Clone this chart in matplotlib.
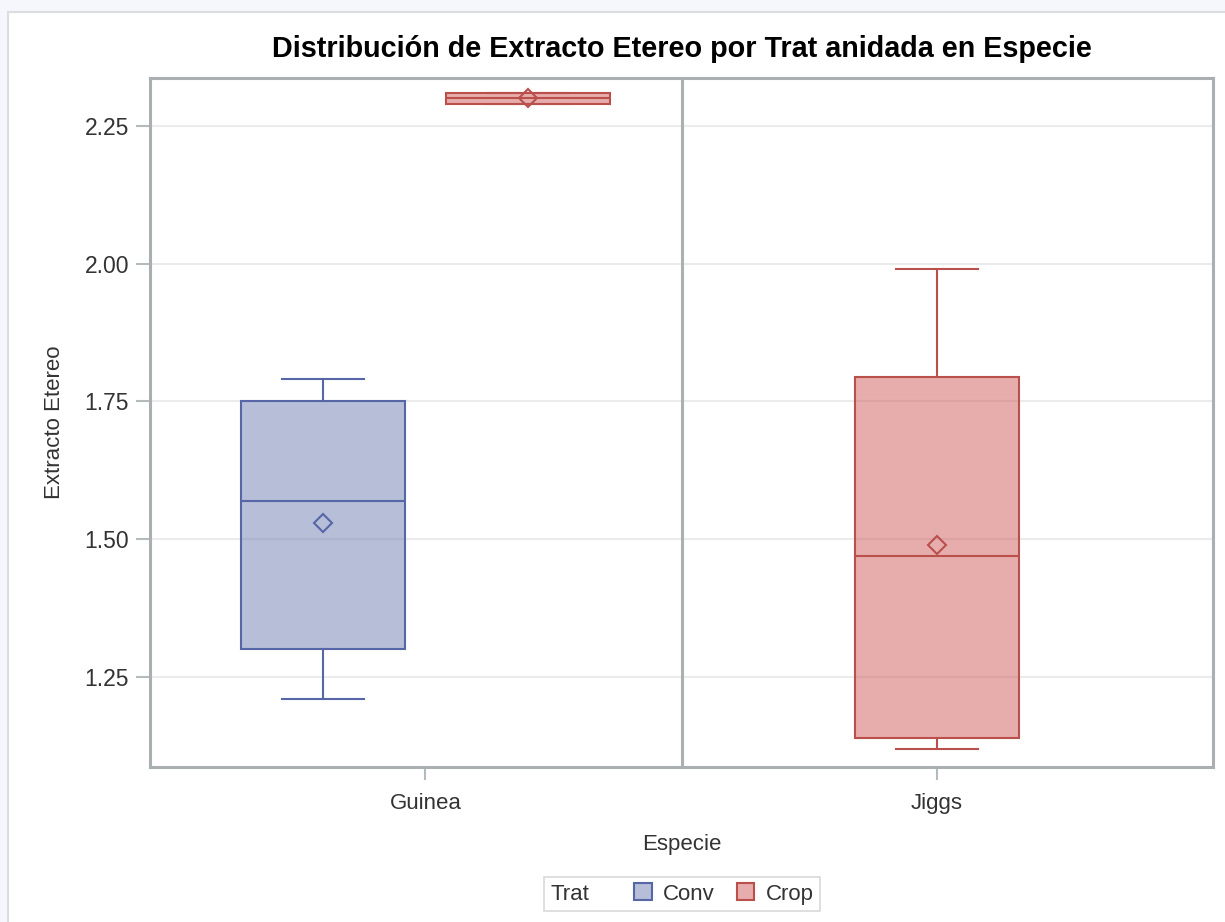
import matplotlib.pyplot as plt
from matplotlib.patches import Rectangle, Patch
from matplotlib.colors import to_rgba
from matplotlib.offsetbox import HPacker

plt.rcParams['font.family'] = ['Liberation Sans', 'DejaVu Sans']

# Summary statistics per Especie / Trat
especies = ['Guinea', 'Jiggs']
trat_levels = ['Conv', 'Crop']

box_especie = ['Guinea', 'Guinea', 'Jiggs']
box_trat = ['Conv', 'Crop', 'Crop']
whislo = [1.21, 2.29, 1.12]
q1 = [1.30, 2.29, 1.14]
med = [1.57, 2.30, 1.47]
q3 = [1.75, 2.31, 1.795]
whishi = [1.79, 2.31, 1.99]
means = [1.53, 2.30, 1.49]

fill_colors = {'Conv': to_rgba('#6f7eb3', 0.5), 'Crop': to_rgba('#d05b5b', 0.5)}
line_colors = {'Conv': '#5766a6', 'Crop': '#b9504c'}
text_color = '#333333'

fig = plt.figure(figsize=(12.25, 9.22), dpi=100)
fig.patch.set_facecolor('#f6f7fc')
fig.add_artist(Rectangle((8 / 1225, -0.01), 1.0, 1 - 12 / 922 + 0.01,
                         transform=fig.transFigure, facecolor='white',
                         edgecolor='#dcdde0', linewidth=1.5, zorder=-10))

ax = fig.add_axes([150 / 1225, 1 - 767 / 922, (1213 - 150) / 1225, (767 - 78) / 922])
ax.set_zorder(1)

# each Especie gets one cell; groups inside a cell are clustered around the tick
cell_w = 1.0
box_w = 0.309
group_off = 0.193
tick_pos = {'Guinea': 0.518, 'Jiggs': 1.481}

for i in range(len(box_trat)):
    esp, trat = box_especie[i], box_trat[i]
    n_groups = box_especie.count(esp)
    if n_groups > 1:
        pos = tick_pos[esp] + (-group_off if trat == 'Conv' else group_off)
    else:
        pos = tick_pos[esp]
    stats = [dict(whislo=whislo[i], q1=q1[i], med=med[i], q3=q3[i],
                  whishi=whishi[i], mean=means[i], fliers=[])]
    lc = line_colors[trat]
    ax.bxp(stats, positions=[pos], widths=box_w, capwidths=box_w / 2,
           patch_artist=True, showmeans=True, manage_ticks=False,
           boxprops=dict(facecolor=fill_colors[trat], edgecolor=lc, linewidth=1.5),
           medianprops=dict(color=lc, linewidth=1.5),
           whiskerprops=dict(color=lc, linewidth=1.5),
           capprops=dict(color=lc, linewidth=1.5),
           meanprops=dict(marker='D', markerfacecolor='none', markeredgecolor=lc,
                          markersize=9, markeredgewidth=1.5))

ax.axvline(cell_w, color='#aab0b2', linewidth=2.2, zorder=3)

ax.set_xlim(0, 2 * cell_w)
ax.set_ylim(1.0867, 2.337)
ax.set_yticks([1.25, 1.50, 1.75, 2.00, 2.25])
ax.set_yticklabels(['1.25', '1.50', '1.75', '2.00', '2.25'])
ax.set_xticks([tick_pos[e] for e in especies])
ax.set_xticklabels(especies)
ax.yaxis.grid(True, color='#ebebeb', linewidth=1.5)
ax.set_axisbelow(True)

for s in ax.spines.values():
    s.set_color('#aab0b2')
    s.set_linewidth(2.2)
ax.tick_params(axis='y', colors='#b5babc', labelcolor=text_color,
               labelsize=16.5, length=10, width=1.5, pad=5)
ax.tick_params(axis='x', colors='#b5babc', labelcolor=text_color,
               labelsize=16, length=9, width=1.5, pad=10)

ax.set_xlabel('Especie', fontsize=16, color=text_color, labelpad=14)
ax.set_ylabel('Extracto Etereo', fontsize=16, color=text_color, labelpad=14)
ax.set_title('Distribución de Extracto Etereo por Trat anidada en Especie',
             fontsize=20.7, fontweight='bold', pad=15)

# legend with its title "Trat" on the same row as the entries
handles = [Patch(facecolor=fill_colors[t], edgecolor=line_colors[t], linewidth=1.5)
           for t in trat_levels]
leg = fig.legend(handles, trat_levels, title='Trat', loc='center',
                 bbox_to_anchor=(682 / 1225, 1 - 894 / 922), ncol=2,
                 fontsize=16, title_fontsize=16, frameon=True, fancybox=False,
                 handlelength=0.8, handleheight=0.8, handletextpad=0.5,
                 columnspacing=1.0, borderpad=0.3)
leg._legend_box.__class__ = HPacker
leg._legend_box.sep = 32
leg._legend_box.align = 'center'
leg.get_frame().set_edgecolor('#cfd0d2')
leg.get_frame().set_linewidth(1.2)
leg.get_title().set_color(text_color)
for t in leg.get_texts():
    t.set_color(text_color)

fig.savefig('out.png', dpi=100)
